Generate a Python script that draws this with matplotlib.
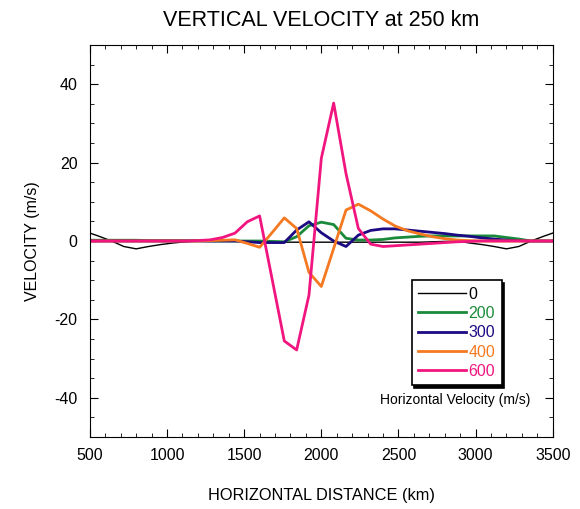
import numpy as np
import matplotlib.pyplot as plt
from matplotlib.ticker import MultipleLocator

plt.rcParams['font.family'] = ['Liberation Sans', 'DejaVu Sans']
plt.rcParams['axes.unicode_minus'] = False

# horizontal distance grid (km), 80 km spacing
dist = np.arange(480, 3521, 80)

# vertical velocity (m/s) for each horizontal velocity
v0 = [2.3, 1.2, 0.0, -1.4, -2.0, -1.4, -0.9, -0.5, -0.2, 0.0, 0.0, 0.0, 0.0, -0.1,
      -0.2, -0.3, -0.3, -0.3, -0.3, -0.3, -0.3, -0.3, -0.3, -0.3, -0.3, -0.3, -0.3, -0.3,
      -0.2, -0.1, 0.0, -0.5, -0.9, -1.4, -2.0, -1.4, 0.0, 1.2, 2.3]
v200 = [0.2, 0.2, 0.2, 0.2, 0.2, 0.1, 0.1, 0.1, 0.1, 0.1, 0.0, 0.0, 0.0, 0.0,
        0.0, -0.1, -0.2, 1.1, 3.9, 4.8, 4.2, 0.7, 0.25, 0.25, 0.4, 0.8, 1.0, 1.2,
        1.3, 1.3, 1.3, 1.3, 1.3, 1.3, 0.9, 0.5, 0.0, 0.0, 0.0]
v300 = [0.0, 0.0, 0.0, 0.0, 0.0, 0.0, 0.0, 0.0, 0.0, 0.0, 0.0, 0.0, 0.0, -0.2,
        -0.4, -0.4, -0.4, 2.8, 4.9, 2.1, 0.0, -1.4, 1.5, 2.7, 3.1, 3.1, 2.8, 2.5,
        2.2, 1.9, 1.5, 1.2, 0.8, 0.5, 0.25, 0.1, 0.0, 0.0, 0.0]
v400 = [0.0, 0.0, 0.0, 0.0, 0.0, 0.0, 0.0, 0.0, 0.0, 0.0, 0.1, 0.2, 0.3, -0.6,
        -1.6, 2.1, 5.9, 3.2, -8.0, -11.6, -1.9, 7.9, 9.4, 7.7, 5.6, 3.8, 2.6, 1.8,
        1.1, 0.6, 0.25, 0.1, 0.0, 0.0, 0.0, 0.0, 0.0, 0.0, 0.0]
v600 = [0.0, 0.0, 0.0, 0.0, 0.0, 0.0, 0.0, 0.0, 0.0, 0.1, 0.3, 0.9, 2.0, 4.9,
        6.4, -9.5, -25.5, -27.8, -13.8, 21.1, 35.2, 17.2, 3.2, -0.8, -1.4, -1.2, -1.0, -0.8,
        -0.6, -0.4, -0.2, -0.1, 0.0, 0.0, 0.0, 0.0, 0.0, 0.0, 0.0]

labels = ['0', '200', '300', '400', '600']
colors = ['black', '#1a8a3a', '#1c0a82', '#f47920', '#f0157f']
widths = [1.0, 2.0, 2.0, 2.0, 2.0]

fig = plt.figure(figsize=(5.8, 5.09), dpi=100)
ax = fig.add_axes([0.155, 0.1415, 0.798, 0.770])

for v, lab, c, w in zip([v0, v200, v300, v400, v600], labels, colors, widths):
    ax.plot(dist, v, color=c, lw=w, label=lab)

ax.set_xlim(500, 3500)
ax.set_ylim(-50, 50)
ax.xaxis.set_major_locator(MultipleLocator(500))
ax.xaxis.set_minor_locator(MultipleLocator(100))
ax.yaxis.set_major_locator(MultipleLocator(20))
ax.yaxis.set_minor_locator(MultipleLocator(5))
ax.tick_params(which='both', direction='in', top=True, right=True, labelsize=11.5)
ax.tick_params(which='major', length=6)
ax.tick_params(which='minor', length=3)
ax.tick_params(axis='x', pad=8)
ax.tick_params(axis='y', pad=9)

ax.set_title('VERTICAL VELOCITY at 250 km', fontsize=15.5, pad=14)
ax.set_xlabel('HORIZONTAL DISTANCE (km)', fontsize=11.8, labelpad=18)
ax.set_ylabel('VELOCITY (m/s)', fontsize=11.5, labelpad=10)

leg = ax.legend(loc='upper left', bbox_to_anchor=(0.678, 0.42), fontsize=11.5,
                handlelength=3.0, handletextpad=0.15, labelspacing=0.27,
                borderpad=0.4, labelcolor='linecolor', fancybox=False,
                shadow={'color': 'black', 'alpha': 1})
leg.get_frame().set_edgecolor('black')
leg.get_frame().set_linewidth(1.2)
leg.get_frame().set_alpha(1)
for line in leg.get_lines():
    line.set_linewidth(1.0 if line.get_label() == '0' else 2.0)

ax.text(0.952, 0.094, 'Horizontal Velocity (m/s)', transform=ax.transAxes,
        ha='right', va='center', fontsize=10)

fig.savefig('out.png', dpi=100)
